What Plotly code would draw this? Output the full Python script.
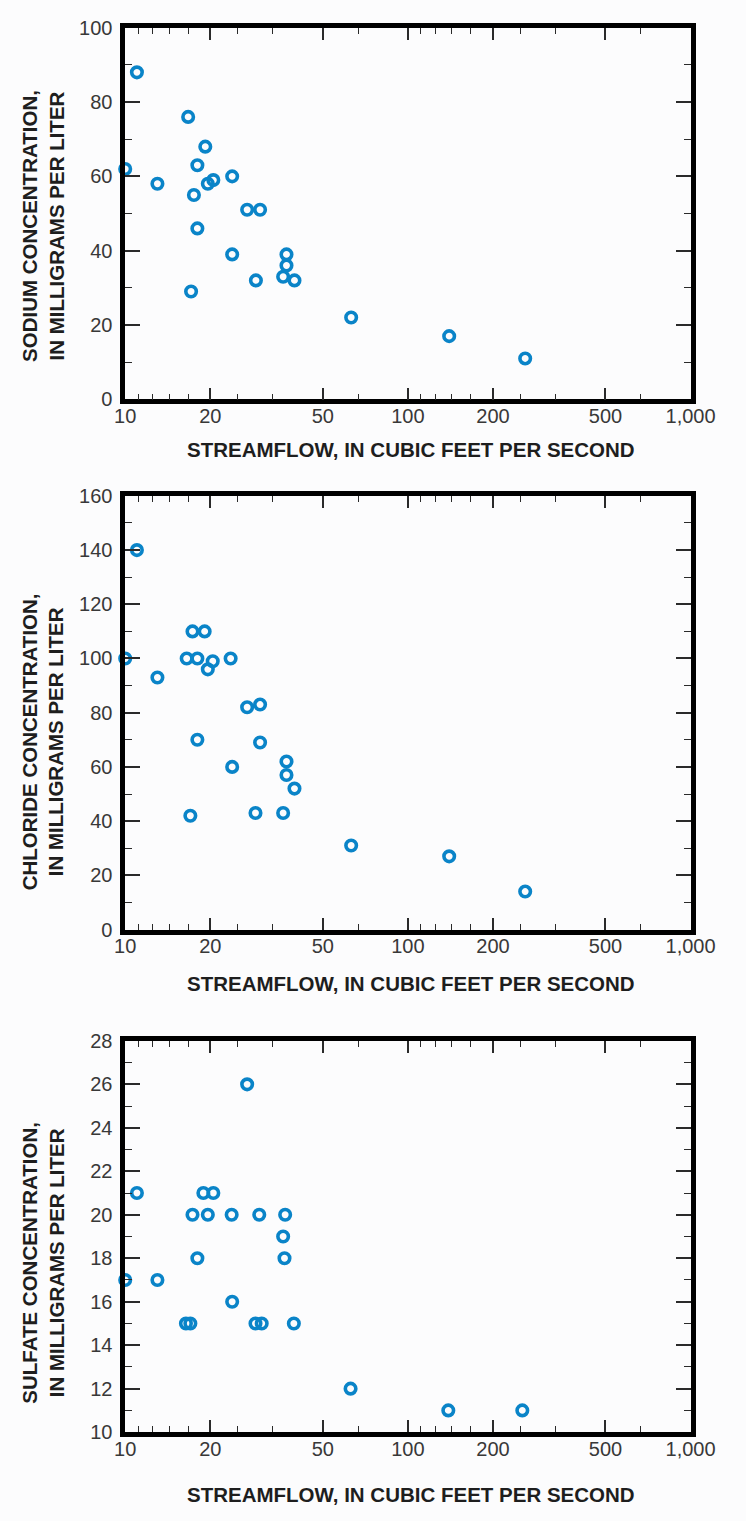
import plotly.graph_objects as go

# ---------------- data ----------------
flow_sodium = [10, 11, 13, 16.7, 17.1, 17.5, 18, 18, 19.2, 19.6, 20.5, 23.9, 23.9,
               27, 30, 29, 37.2, 37.2, 36.2, 39.7, 63, 140, 260]
sodium = [62, 88, 58, 76, 29, 55, 63, 46, 68, 58, 59, 60, 39,
          51, 51, 32, 39, 36, 33, 32, 22, 17, 11]

flow_chloride = [10, 11, 13, 16.5, 17, 17.3, 18, 18, 19.1, 19.6, 20.4, 23.6, 23.9,
                 27, 30, 30, 28.9, 37.2, 37.2, 39.7, 36.2, 63, 140, 260]
chloride = [100, 140, 93, 100, 42, 110, 100, 70, 110, 96, 99, 100, 60,
            82, 83, 69, 43, 62, 57, 52, 43, 31, 27, 14]

flow_sulfate = [10, 11, 13, 16.4, 17, 17.3, 18, 18.9, 19.6, 20.5, 23.8, 23.9, 27,
                29.8, 28.9, 30.4, 36.8, 36.2, 36.6, 39.5, 62.7, 139, 254]
sulfate = [17, 21, 17, 15, 15, 20, 18, 21, 20, 21, 20, 16, 26,
           20, 15, 15, 20, 19, 18, 15, 12, 11, 11]

x_tickvals = [10, 20, 50, 100, 200, 500, 1000]
x_ticktext = ["10", "20", "50", "100", "200", "500", "1,000"]
x_minor_vals = [11.1, 12.5, 14.3, 16.7, 25, 33.3, 66.7, 111, 125, 143, 167, 250, 333, 667]

y_titles = ["SODIUM CONCENTRATION,<br>IN MILLIGRAMS PER LITER",
            "CHLORIDE CONCENTRATION,<br>IN MILLIGRAMS PER LITER",
            "SULFATE CONCENTRATION,<br>IN MILLIGRAMS PER LITER"]
x_title = "STREAMFLOW, IN CUBIC FEET PER SECOND"

# ---------------- layout geometry ----------------
W, H = 746, 1521
X0, X1 = 120, 714
panels = [  # (top px, bottom px, ymin, ymax, major dtick, minor dtick, ytitle center px, xtitle center px)
    (17, 394, 0, 100, 20, 10, 218, 445),
    (492, 932, 0, 160, 20, 10, 742, 987),
    (1045, 1442, 10, 28, 2, 1, 1270, 1505),
]
series = [(flow_sodium, sodium), (flow_chloride, chloride), (flow_sulfate, sulfate)]

MARK = "#0a84c8"
TICKC = "#2a2a2a"
LABC = "#383838"
FONT = "Liberation Sans, Arial, sans-serif"

fig = go.Figure()
annotations = []
layout = {}
for i, ((fx, fy), (top, bot, ymin, ymax, dmaj, dmin, ytc, xtc)) in enumerate(zip(series, panels)):
    n = "" if i == 0 else str(i + 1)
    fig.add_trace(go.Scatter(
        x=fx, y=fy, mode="markers",
        xaxis="x" + n, yaxis="y" + n,
        marker=dict(symbol="circle-open", size=10.5, color=MARK, line=dict(width=3.6, color=MARK)),
        showlegend=False, cliponaxis=False,
    ))
    layout["xaxis" + n] = dict(
        type="log", range=[1, 3], domain=[X0 / W, X1 / W], anchor="y" + n,
        tickvals=x_tickvals, ticktext=x_ticktext,
        ticks="inside", ticklen=12, tickwidth=1.5, tickcolor=TICKC,
        minor=dict(tickvals=x_minor_vals, ticks="inside", ticklen=6, tickwidth=1.3, tickcolor=TICKC),
        showline=True, linewidth=4.5, linecolor="black", mirror="ticks",
        showgrid=False, zeroline=False,
        tickfont=dict(size=20, color=LABC, family=FONT), ticklabelstandoff=-5,
    )
    layout["yaxis" + n] = dict(
        range=[ymin, ymax], domain=[1 - bot / H, 1 - top / H], anchor="x" + n,
        dtick=dmaj, tick0=ymin,
        ticks="inside", ticklen=15, tickwidth=1.5, tickcolor=TICKC,
        minor=dict(dtick=dmin, ticks="inside", ticklen=7, tickwidth=1.3, tickcolor=TICKC),
        showline=True, linewidth=4.5, linecolor="black", mirror="ticks",
        showgrid=False, zeroline=False,
        tickfont=dict(size=20, color=LABC, family=FONT), ticklabelstandoff=4,
    )
    annotations.append(dict(
        text=y_titles[i], textangle=-90, xref="paper", yref="paper",
        x=33.7 / W, y=1 - ytc / H, xanchor="center", yanchor="middle", showarrow=False,
        font=dict(size=20.5, color="#1e1e1e", family=FONT, weight="bold"),
    ))
    annotations.append(dict(
        text=x_title, xref="paper", yref="paper",
        x=420 / W, y=1 - xtc / H, xanchor="center", yanchor="middle", showarrow=False,
        font=dict(size=20.5, color="#1e1e1e", family=FONT, weight="bold"),
    ))

fig.update_layout(
    width=W, height=H, margin=dict(l=0, r=0, t=0, b=0),
    paper_bgcolor="#fcfcfd", plot_bgcolor="#fcfcfd",
    annotations=annotations, **layout,
)
fig.write_html("out.html")
